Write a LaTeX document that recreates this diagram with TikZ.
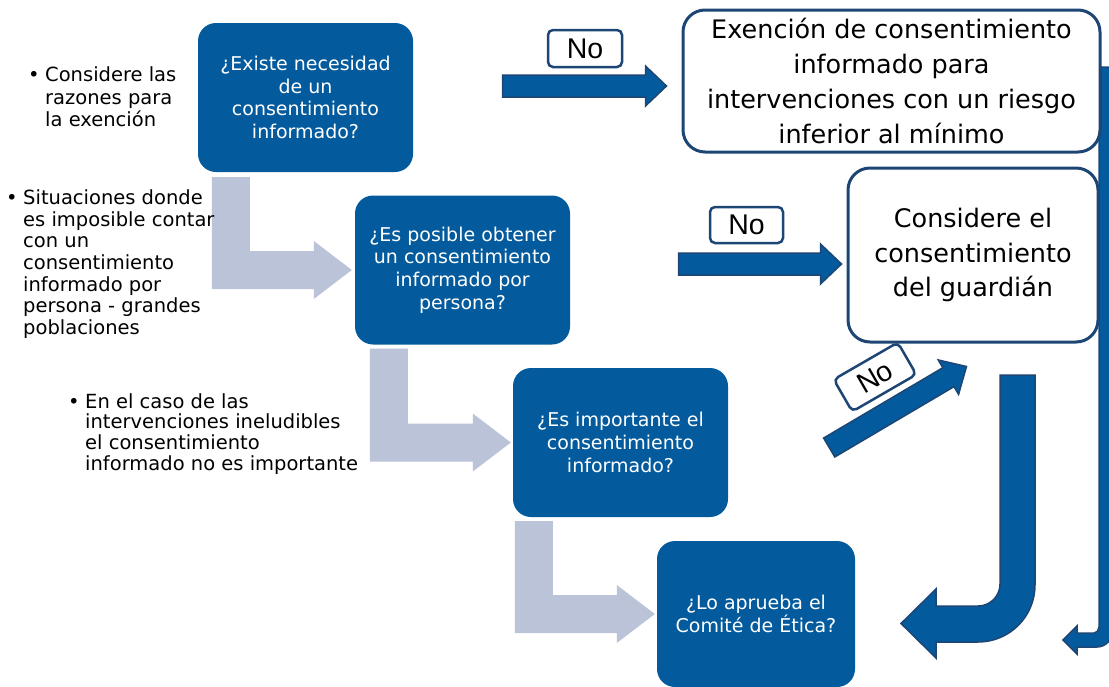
\documentclass[tikz,border=0pt]{standalone}
\usepackage{fontspec}
\setmainfont{DejaVu Sans}
\newfontfamily\labelfont{Liberation Sans}
\usetikzlibrary{calc,positioning}
\definecolor{qblue}{HTML}{035A9C}
\definecolor{navy}{HTML}{1D4675}
\definecolor{flowgray}{HTML}{BAC3D7}

% straight block arrow between two named points
\newcommand{\fatarrow}[2]{%
  \path let \p1=($#2-#1$), \n1={veclen(\x1,\y1)}, \n2={atan2(\y1,\x1)} in
    \pgfextra{\xdef\falen{\n1}\xdef\faang{\n2}};
  \draw[blockarrow,shift={#1},rotate=\faang] (0pt,-11pt) -- (\falen-21pt,-11pt)
    -- (\falen-21pt,-20pt) -- (\falen,0pt) -- (\falen-21pt,20pt)
    -- (\falen-21pt,11pt) -- (0pt,11pt) -- cycle;}
% down-then-right grey arrow: #1 top left of the bar, #2 tip
\newcommand{\bendarrow}[2]{%
  \fill[flowarrow] let \p1=#1, \p2=#2 in (\x1,\y1) -- (\x1+38pt,\y1)
    -- (\x1+38pt,\y2+19pt) -- (\x2-38pt,\y2+19pt) -- (\x2-38pt,\y2+29pt)
    -- (\x2,\y2) -- (\x2-38pt,\y2-29pt) -- (\x2-38pt,\y2-19pt)
    -- (\x1,\y2-19pt) -- cycle;}

\begin{document}
\begin{tikzpicture}[x=1pt,y=-1pt,every node/.style={inner sep=0pt,align=center},
  question/.style={fill=qblue,rounded corners=18pt,text=white,minimum width=215pt,minimum height=149pt,font=\fontsize{19}{22.6}\selectfont},
  outcome/.style={draw=navy,line width=3pt,fill=white,rounded corners=22pt,font=\fontsize{25.5}{34.7}\selectfont},
  nolabel/.style={draw=navy,line width=2.5pt,fill=white,rounded corners=5pt,minimum width=74pt,minimum height=37pt,font=\labelfont\fontsize{28.5}{28.5}\selectfont},
  note/.style={anchor=north west,align=left},
  blockarrow/.style={fill=qblue,draw=navy,line width=1.5pt,line join=miter},
  flowarrow/.style={fill=flowgray}]
\useasboundingbox (0,0) rectangle (1109,686);

\node[question] (q1) at (305.5,97.5) {¿Existe necesidad\\de un\\consentimiento\\informado?};
\node[question] (q2) at (462.5,270) {¿Es posible obtener\\un consentimiento\\informado por\\persona?};
\node[question] (q3) at (620.5,442.5) {¿Es importante el\\consentimiento\\informado?};
\node[question,minimum width=198pt,minimum height=146pt] (q4) at (756,614) {¿Lo aprueba el\\Comité de Ética?};

% grey flow between the questions
\bendarrow{($(q1.south west)+(14,5)$)}{($(q2.west)+(-3,0)$)}
\bendarrow{($(q2.south west)+(15,4)$)}{($(q3.west)+(-2,0)$)}
\bendarrow{($(q3.south west)+(2,4)$)}{($(q4.west)+(-2,0)$)}

% return arrows on the right
\draw[blockarrow] (1000,375) -- (1035,375) -- (1035,585) .. controls (1035,616.5) and (1009.5,642) .. (978,642)
  -- (936,642) -- (936,658) -- (901,623.5) -- (936,589) -- (936,606) -- (978,606)
  .. controls (990.2,606) and (1000,596.2) .. (1000,584) -- cycle;
\draw[blockarrow] (1099,67) -- (1113,67) -- (1113,630) .. controls (1113,639) and (1106,647) .. (1097,647)
  -- (1077,647) -- (1077,654) -- (1063,640) -- (1077,626) -- (1077,633) -- (1094,633)
  .. controls (1097,633) and (1099,630) .. (1099,627) -- cycle;

\node[outcome,minimum width=417pt,minimum height=142pt] (w1) at (891.5,81) {Exención de consentimiento\\informado para\\intervenciones con un riesgo\\inferior al mínimo};
\node[outcome,minimum width=250pt,minimum height=174pt] (w2) at (973,255) {Considere el\\consentimiento\\del guardián};

% "No" branches
\coordinate (e1) at ($(w1.west)+(-15,5)$);
\coordinate (s1) at ($(e1)+(-164,0)$);
\coordinate (e2) at ($(w2.west)+(-5,9)$);
\coordinate (s2) at ($(e2)+(-163,0)$);
\coordinate (s3) at ($(q3.east)+(101,5)$);
\coordinate (e3) at ($(w2.south west)+(120,23)$);
\fatarrow{(s1)}{(e1)}
\fatarrow{(s2)}{(e2)}
\fatarrow{(s3)}{(e3)}
\node[nolabel] (no1) at (585,48.5) {No};
\node[nolabel,minimum width=73pt,minimum height=36pt] (no2) at (746.5,225) {No};
\node[nolabel,rotate=30] (no3) at (875,377) {No};

% side notes
\node[note,font=\fontsize{19.5}{22.5}\selectfont] (b1) at (28,66) {\begin{tabular}{@{}l@{\hspace{5.5pt}}l@{}}\textbullet & Considere las\\ & razones para\\ & la exención\end{tabular}};
\node[note,font=\fontsize{19.5}{21.7}\selectfont] (b2) at (6,189) {\begin{tabular}{@{}l@{\hspace{5.5pt}}l@{}}\textbullet & Situaciones donde\\ & es imposible contar\\ & con un\\ & consentimiento\\ & informado por\\ & persona - grandes\\ & poblaciones\end{tabular}};
\node[note,font=\fontsize{19.5}{20.3}\selectfont] (b3) at (68,393) {\begin{tabular}{@{}l@{\hspace{5.5pt}}l@{}}\textbullet & En el caso de las\\ & intervenciones ineludibles\\ & el consentimiento\\ & informado no es importante\end{tabular}};
\end{tikzpicture}
\end{document}
